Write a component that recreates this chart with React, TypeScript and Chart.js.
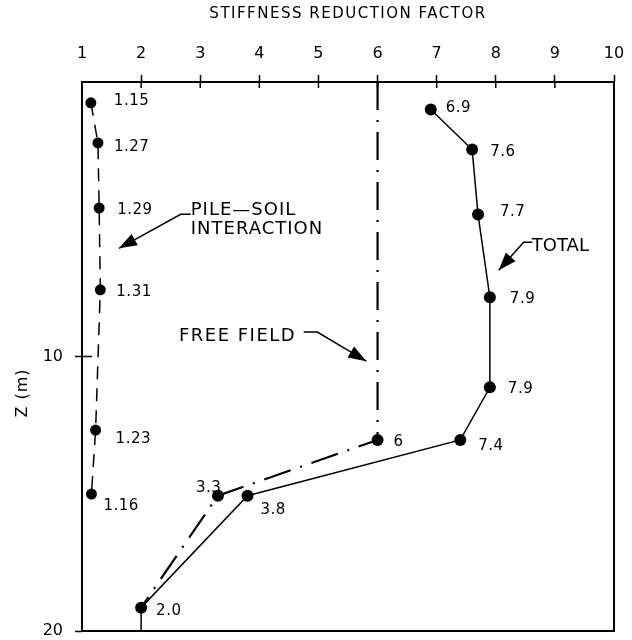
import React, { useEffect, useRef } from "react";
import { Chart, registerables } from "chart.js";

Chart.register(...registerables);

// ---------- data ----------
const pileSoilFactor = [1.15, 1.27, 1.29, 1.31, 1.23, 1.16];
const pileSoilDepth = [0.76, 2.22, 4.59, 7.57, 12.68, 15.01];
const pileSoilLabels = ["1.15", "1.27", "1.29", "1.31", "1.23", "1.16"];

const totalFactor = [6.9, 7.6, 7.7, 7.9, 7.9, 7.4, 3.8, 2.0, 2.0];
const totalDepth = [1.0, 2.46, 4.83, 7.84, 11.12, 13.04, 15.07, 19.15, 20];
const totalLabels = ["6.9", "7.6", "7.7", "7.9", "7.9", "7.4", "3.8", "2.0", ""];

const freeFieldFactor = [6, 6, 3.3, 2.0];
const freeFieldDepth = [0, 13.04, 15.07, 19.15];
const freeFieldLabels = ["", "6", "3.3", ""];

const xAxisRange = [1, 10];
const depthRange = [0, 20];
const xTitle = "STIFFNESS REDUCTION FACTOR";
const yTitle = "Z (m)";

// annotation texts with anchor / arrow points in data coordinates (factor, depth)
const annotationTexts = [["PILE—SOIL", "INTERACTION"], ["FREE FIELD"], ["TOTAL"]];
const annotationAnchors = [
  [2.84, 4.56],
  [2.64, 9.16],
  [8.61, 5.88],
];
const annotationArrows = [
  [[2.84, 4.82], [2.67, 4.82], [1.625, 6.06]],
  [[4.75, 9.11], [4.98, 9.11], [5.81, 10.17]],
  [[8.62, 5.84], [8.47, 5.84], [8.05, 6.86]],
];

// ---------- styling (label offsets in px) ----------
const pileOffsets = [[23, -2], [16, 4], [18, 2], [16, 2], [20, 9], [12, 12]];
const totalOffsets = [[15, -1], [18, 3], [22, -2], [20, 2], [18, 2], [18, 6], [13, 14], [15, 3], [0, 0]];
const freeOffsets = [[0, 0], [16, 2], [-22, -8], [0, 0]];
const annotationSpacing = [1, 1.5, 0];

const FONT = "'DejaVu Sans', 'Liberation Sans', sans-serif";

function toPts(xs: number[], ys: number[]) {
  return xs.map((v, i) => ({ x: v, y: ys[i] }));
}

const overlayPlugin = {
  id: "overlay",
  beforeDatasetsDraw(chart: any) {
    const { ctx, chartArea: a, scales } = chart;
    const x = scales.x;
    const y = scales.y;
    ctx.save();
    ctx.strokeStyle = "#000";
    ctx.lineWidth = 2;
    ctx.strokeRect(a.left, a.top, a.right - a.left, a.bottom - a.top);
    ctx.lineWidth = 1.5;
    ctx.beginPath();
    x.ticks.forEach((t: any) => {
      if (t.value > xAxisRange[0] && t.value < xAxisRange[1]) {
        const px = x.getPixelForValue(t.value);
        ctx.moveTo(px, a.top);
        ctx.lineTo(px, a.top + 6);
      }
    });
    y.ticks.forEach((t: any) => {
      if (t.value > depthRange[0] && t.value < depthRange[1]) {
        const py = y.getPixelForValue(t.value);
        ctx.moveTo(a.left, py);
        ctx.lineTo(a.left + 10, py);
      }
    });
    ctx.stroke();
    ctx.restore();
  },
  afterDatasetsDraw(chart: any) {
    const { ctx, chartArea: a, scales } = chart;
    const x = scales.x;
    const y = scales.y;
    ctx.save();
    ctx.fillStyle = "#000";
    ctx.strokeStyle = "#000";

    // point labels
    ctx.font = `15px ${FONT}`;
    (ctx as any).letterSpacing = "0.5px";
    ctx.textAlign = "left";
    ctx.textBaseline = "middle";
    const drawLabels = (xs: number[], ys: number[], labels: string[], offs: number[][]) => {
      labels.forEach((lab, i) => {
        if (!lab) return;
        const px = x.getPixelForValue(xs[i]);
        const py = y.getPixelForValue(ys[i]);
        ctx.fillText(lab, px + offs[i][0], py + offs[i][1]);
      });
    };
    drawLabels(pileSoilFactor, pileSoilDepth, pileSoilLabels, pileOffsets);
    drawLabels(totalFactor, totalDepth, totalLabels, totalOffsets);
    drawLabels(freeFieldFactor, freeFieldDepth, freeFieldLabels, freeOffsets);

    // annotations
    ctx.font = `18px ${FONT}`;
    annotationTexts.forEach((lines, k) => {
      (ctx as any).letterSpacing = `${annotationSpacing[k]}px`;
      const ax = x.getPixelForValue(annotationAnchors[k][0]);
      const ay = y.getPixelForValue(annotationAnchors[k][1]) + 3;
      lines.forEach((ln, j) => ctx.fillText(ln, ax, ay + j * 19));
      const pts = annotationArrows[k].map((p) => [x.getPixelForValue(p[0]), y.getPixelForValue(p[1])]);
      ctx.lineWidth = 1.5;
      ctx.beginPath();
      ctx.moveTo(pts[0][0], pts[0][1]);
      for (let i = 1; i < pts.length; i++) ctx.lineTo(pts[i][0], pts[i][1]);
      ctx.stroke();
      const tip = pts[pts.length - 1];
      const prev = pts[pts.length - 2];
      const ang = Math.atan2(tip[1] - prev[1], tip[0] - prev[0]);
      const L = 18;
      const W = 6.5;
      const bx = tip[0] - L * Math.cos(ang);
      const by = tip[1] - L * Math.sin(ang);
      ctx.beginPath();
      ctx.moveTo(tip[0], tip[1]);
      ctx.lineTo(bx + W * Math.sin(ang), by - W * Math.cos(ang));
      ctx.lineTo(bx - W * Math.sin(ang), by + W * Math.cos(ang));
      ctx.closePath();
      ctx.fill();
    });

    // titles
    ctx.font = `15px ${FONT}`;
    (ctx as any).letterSpacing = "1.5px";
    ctx.textAlign = "center";
    ctx.fillText(xTitle, (a.left + a.right) / 2, 14);
    (ctx as any).letterSpacing = "1px";
    ctx.font = `16px ${FONT}`;
    ctx.translate(23, 393);
    ctx.rotate(-Math.PI / 2);
    ctx.fillText(yTitle, 0, 0);
    ctx.restore();
  },
};

export default function App() {
  const ref = useRef<HTMLCanvasElement | null>(null);
  useEffect(() => {
    if (!ref.current) return;
    const hideEnds = (lo: number) => (c: any) =>
      c.tick && c.tick.value === lo ? "rgba(0,0,0,0)" : "#000";
    const chart = new Chart(ref.current, {
      type: "line",
      data: {
        datasets: [
          {
            label: "Total",
            data: toPts(totalFactor, totalDepth),
            borderColor: "#000",
            borderWidth: 1.5,
            pointRadius: totalLabels.map((l) => (l ? 6 : 0)),
            pointBackgroundColor: "#000",
            pointBorderWidth: 0,
            tension: 0,
          },
          {
            label: "Free field",
            data: toPts(freeFieldFactor, freeFieldDepth),
            borderColor: "#000",
            borderWidth: 2.2,
            borderDash: [28, 10, 2, 10],
            pointRadius: freeFieldLabels.map((l) => (l ? 6 : 0)),
            pointBackgroundColor: "#000",
            pointBorderWidth: 0,
            tension: 0,
          },
          {
            label: "Pile-soil interaction",
            data: toPts(pileSoilFactor, pileSoilDepth),
            borderColor: "#000",
            borderWidth: 1.5,
            borderDash: [13, 9],
            pointRadius: 5.5,
            pointBackgroundColor: "#000",
            pointBorderWidth: 0,
            tension: 0,
          },
        ],
      },
      options: {
        animation: false,
        responsive: false,
        events: [],
        layout: { padding: { top: 0, left: 0, right: 18, bottom: 9 } },
        plugins: { legend: { display: false }, tooltip: { enabled: false }, title: { display: false } },
        scales: {
          x: {
            type: "linear",
            position: "top",
            min: xAxisRange[0],
            max: xAxisRange[1],
            afterFit: (s: any) => {
              s.height = 82;
              s.paddingLeft = 0;
              s.paddingRight = 0;
            },
            ticks: { stepSize: 1, color: "#000", padding: 12, font: { family: FONT, size: 16 } },
            grid: {
              drawOnChartArea: false,
              tickLength: 7,
              tickWidth: 1.5,
              tickColor: hideEnds(xAxisRange[0]),
            },
            border: { display: false },
          },
          y: {
            type: "linear",
            reverse: true,
            min: depthRange[0],
            max: depthRange[1],
            afterFit: (s: any) => {
              s.width = 82;
              s.paddingTop = 0;
              s.paddingBottom = 0;
            },
            ticks: {
              stepSize: 10,
              color: "#000",
              padding: 12,
              font: { family: FONT, size: 16 },
              callback: (v: any) => (v === depthRange[0] ? "" : String(v)),
            },
            grid: {
              drawOnChartArea: false,
              tickLength: 7,
              tickWidth: 1.5,
              tickColor: hideEnds(depthRange[0]),
            },
            border: { display: false },
          },
        },
      },
      plugins: [overlayPlugin],
    });
    return () => chart.destroy();
  }, []);
  return (
    <div style={{ position: "absolute", left: 0, top: 0, width: 632, height: 640, background: "#fff" }}>
      <canvas ref={ref} width={632} height={640} style={{ display: "block" }} />
    </div>
  );
}
